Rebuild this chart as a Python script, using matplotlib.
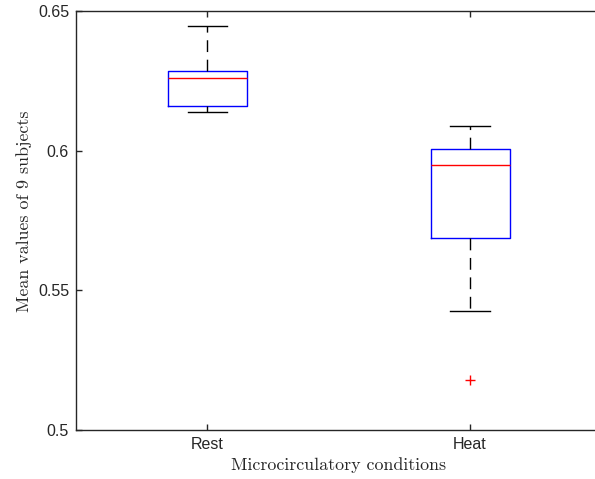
import matplotlib
matplotlib.use("Agg")
import matplotlib.pyplot as plt

# Box statistics
conditions = ["Rest", "Heat"]
whisker_low = [0.6138, 0.5426]
q1 = [0.6160, 0.5687]
medians = [0.6260, 0.5949]
q3 = [0.6285, 0.6006]
whisker_high = [0.6446, 0.6088]
outliers = [[], [0.5179]]

stats = []
for i in range(len(conditions)):
    stats.append({
        "label": conditions[i],
        "whislo": whisker_low[i],
        "q1": q1[i],
        "med": medians[i],
        "q3": q3[i],
        "whishi": whisker_high[i],
        "fliers": outliers[i],
    })

fig = plt.figure(figsize=(5.95, 4.79), dpi=100)
# axes run past the right edge of the picture, like the cropped original
ax = fig.add_axes([76 / 595, 49 / 479, 525.5 / 595, 419 / 479])

dark = (0.15, 0.15, 0.15)
ax.bxp(
    stats,
    positions=[1, 2],
    widths=0.3,
    boxprops=dict(color="blue", linewidth=1.0),
    medianprops=dict(color="red", linewidth=1.0),
    whiskerprops=dict(color="black", linewidth=1.0, linestyle=(0, (8.5, 5.5))),
    capprops=dict(color="black", linewidth=1.0),
    flierprops=dict(marker="+", markeredgecolor="red", markersize=7, markeredgewidth=1.0),
)

ax.set_xlim(0.5, 2.5)
ax.set_ylim(0.5, 0.65)
ax.set_yticks([0.5, 0.55, 0.6, 0.65])
ax.set_yticklabels(["0.5", "0.55", "0.6", "0.65"])
ax.set_xticks([1, 2])
ax.set_xticklabels(conditions)

for s in ax.spines.values():
    s.set_color(dark)
    s.set_linewidth(1.0)

ax.tick_params(direction="in", length=4, width=1.0, color=dark, labelcolor=dark,
               top=True, right=True, labelsize=11.5, pad=5)
for lab in ax.get_xticklabels() + ax.get_yticklabels():
    lab.set_fontfamily("Liberation Sans")

ax.set_xlabel("Microcirculatory conditions", fontname="cmr10", fontsize=12.9,
              color=dark, labelpad=4)
ax.set_ylabel("Mean values of 9 subjects", fontname="cmr10", fontsize=12.9,
              color=dark)
ax.yaxis.set_label_coords(-0.084, 0.522)

fig.savefig("out.png", dpi=100)
